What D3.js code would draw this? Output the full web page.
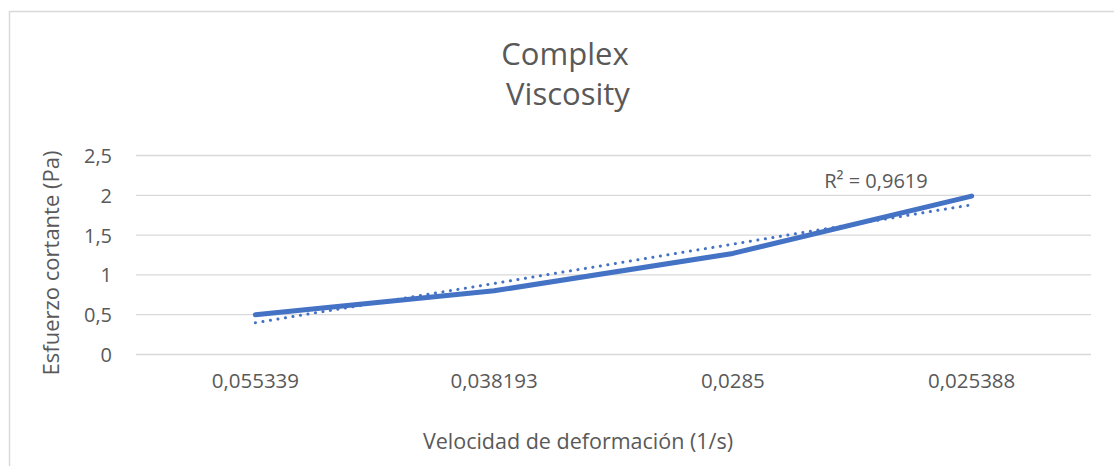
<!DOCTYPE html>
<html>
<head>
<meta charset="utf-8">
<script src="https://cdn.jsdelivr.net/npm/d3@7"></script>
<style>
  html, body { margin: 0; padding: 0; background: #fff; }
  svg { display: block; font-family: "Open Sans", sans-serif; }
</style>
</head>
<body>
<div id="chart"></div>
<script>
// chart data
const categories = ['0,055339', '0,038193', '0,0285', '0,025388'];
const stressValues = [0.5, 0.8, 1.27, 1.99];
const yTicks = [0, 0.5, 1, 1.5, 2, 2.5];
const titleLines = ['Complex', 'Viscosity'];
const r2Label = 'R² = 0,9619';

const width = 1114, height = 466;
const margin = { top: 155.5, right: 23, bottom: 111.5, left: 136 };
const textColor = '#595959';

const svg = d3.select('#chart')
    .append('svg')
    .attr('width', width)
    .attr('height', height);

// chart area border
svg.append('rect')
    .attr('x', 9.5).attr('y', 11.5)
    .attr('width', width + 20).attr('height', height + 20)
    .attr('fill', 'none')
    .attr('stroke', '#d9d9d9')
    .attr('stroke-width', 1.5);

const x = d3.scaleBand()
    .domain(categories)
    .range([margin.left, width - margin.right]);

const y = d3.scaleLinear()
    .domain([0, 2.5])
    .range([height - margin.bottom, margin.top]);

// gridlines
svg.append('g')
    .selectAll('line')
    .data(yTicks)
    .join('line')
    .attr('x1', margin.left)
    .attr('x2', width - margin.right)
    .attr('y1', d => y(d))
    .attr('y2', d => y(d))
    .attr('stroke', '#d9d9d9')
    .attr('stroke-width', 1.3);

// y tick labels
const fmt = d => String(d).replace('.', ',');
svg.append('g')
    .selectAll('text')
    .data(yTicks)
    .join('text')
    .attr('x', 112)
    .attr('y', d => y(d) + 7.5)
    .attr('text-anchor', 'end')
    .attr('font-size', 20)
    .attr('fill', textColor)
    .text(fmt);

// x tick labels
svg.append('g')
    .selectAll('text')
    .data(categories)
    .join('text')
    .attr('x', d => x(d) + x.bandwidth() / 2)
    .attr('y', 388)
    .attr('text-anchor', 'middle')
    .attr('font-size', 20.5)
    .attr('fill', textColor)
    .text(d => d);

// linear trendline (least squares over category index, like Excel)
const xs = stressValues.map((d, i) => i + 1);
const n = xs.length;
const mx = d3.mean(xs), my = d3.mean(stressValues);
const slope = d3.sum(xs, (xi, i) => (xi - mx) * (stressValues[i] - my)) /
    d3.sum(xs, xi => (xi - mx) * (xi - mx));
const intercept = my - slope * mx;
const cx = i => x(categories[i]) + x.bandwidth() / 2;

svg.append('line')
    .attr('x1', cx(0)).attr('y1', y(intercept + slope * xs[0]))
    .attr('x2', cx(n - 1)).attr('y2', y(intercept + slope * xs[n - 1]))
    .attr('stroke', '#4472c4')
    .attr('stroke-width', 3)
    .attr('stroke-linecap', 'round')
    .attr('stroke-dasharray', '0.1 7.5');

// data line
const line = d3.line()
    .x((d, i) => cx(i))
    .y(d => y(d));

svg.append('path')
    .datum(stressValues)
    .attr('d', line)
    .attr('fill', 'none')
    .attr('stroke', '#4472c4')
    .attr('stroke-width', 5)
    .attr('stroke-linecap', 'round')
    .attr('stroke-linejoin', 'round');

// R² label
svg.append('text')
    .attr('x', 876)
    .attr('y', 188)
    .attr('text-anchor', 'middle')
    .attr('font-size', 20)
    .attr('fill', textColor)
    .text(r2Label);

// title
svg.append('g')
    .selectAll('text')
    .data(titleLines)
    .join('text')
    .attr('x', (d, i) => i === 0 ? 565 : 568)
    .attr('y', (d, i) => 65 + i * 40)
    .attr('text-anchor', 'middle')
    .attr('font-size', 31)
    .attr('fill', textColor)
    .text(d => d);

// axis titles
svg.append('text')
    .attr('x', 578)
    .attr('y', 449)
    .attr('text-anchor', 'middle')
    .attr('font-size', 21.5)
    .attr('fill', textColor)
    .text('Velocidad de deformación (1/s)');

svg.append('text')
    .attr('transform', 'translate(59,263) rotate(-90)')
    .attr('text-anchor', 'middle')
    .attr('font-size', 22)
    .attr('fill', textColor)
    .text('Esfuerzo cortante (Pa)');
</script>
</body>
</html>
